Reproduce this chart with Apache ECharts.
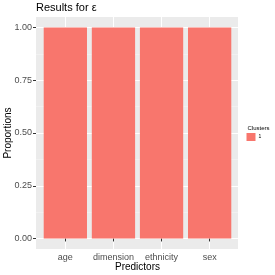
<!DOCTYPE html>
<html><head><meta charset="utf-8">
<script src="https://cdn.jsdelivr.net/npm/echarts@6/dist/echarts.min.js"></script>
<style>html,body{margin:0;padding:0;background:#fff}#c{width:275px;height:275px}</style>
</head><body><div id="c"></div>
<script>
var categories = ['age', 'dimension', 'ethnicity', 'sex'];
var values = [1, 1, 1, 1];
var clusterName = '1';
var yTicks = [0, 0.25, 0.5, 0.75, 1];

var FONT = '"Liberation Sans", Arial, sans-serif';
var chart = echarts.init(document.getElementById('c'), null, {renderer: 'canvas'});
chart.setOption({
  animation: false,
  backgroundColor: '#ffffff',
  textStyle: {fontFamily: FONT},
  title: [
    {text: 'Results for \u03b5', left: 36, top: 2, padding: 0, textStyle: {fontSize: 11, fontWeight: 'normal', color: '#000', fontFamily: FONT}},
    {text: 'Clusters', left: 247.5, top: 125, padding: 0, textStyle: {fontSize: 6, fontWeight: 'normal', color: '#000', fontFamily: FONT}}
  ],
  legend: {
    left: 246.5, top: 133, padding: 0, itemWidth: 9, itemHeight: 8, itemGap: 2,
    icon: 'rect', data: [clusterName],
    textStyle: {fontSize: 5, color: '#000', fontFamily: FONT, padding: [0, 0, 0, -2]}
  },
  grid: [
    {left: 36, top: 17, width: 202, height: 232, show: true, backgroundColor: '#EBEBEB', borderWidth: 0, containLabel: false, outerBoundsMode: 'none'},
    {left: 36, top: 27.5, width: 202, height: 211, show: false, containLabel: false, outerBoundsMode: 'none'},
    {left: 41.3, top: 17, width: 192.4, height: 232, show: false, containLabel: false, outerBoundsMode: 'none'}
  ],
  xAxis: [
    {type: 'value', gridIndex: 0, show: false},
    {type: 'value', gridIndex: 1, show: false},
    {type: 'category', gridIndex: 2, data: categories,
     axisLine: {show: false},
     axisTick: {show: true, alignWithLabel: true, length: 3, lineStyle: {color: '#333333', width: 1}},
     splitLine: {show: true, alignWithLabel: true, lineStyle: {color: '#ffffff', width: 1}},
     axisLabel: {margin: 4, fontSize: 9, color: '#4D4D4D', fontFamily: FONT, interval: 0},
     name: 'Predictors', nameLocation: 'middle', nameGap: 13.5, nameMoveOverlap: false,
     nameTextStyle: {fontSize: 10, color: '#000', fontFamily: FONT}}
  ],
  yAxis: [
    {type: 'value', gridIndex: 0, show: false},
    {type: 'value', gridIndex: 1, min: yTicks[0], max: yTicks[yTicks.length - 1], interval: 0.25,
     axisLine: {show: false},
     axisTick: {show: true, length: 3, lineStyle: {color: '#333333', width: 1}},
     minorTick: {show: false, splitNumber: 2},
     splitLine: {show: true, lineStyle: {color: '#ffffff', width: 1}},
     minorSplitLine: {show: true, lineStyle: {color: '#F5F5F5', width: 0.6}},
     axisLabel: {margin: 4, fontSize: 9, color: '#4D4D4D', fontFamily: FONT,
       formatter: function (v) { return v.toFixed(2); }},
     name: 'Proportions', nameLocation: 'middle', nameGap: 23, nameMoveOverlap: false,
     nameTextStyle: {fontSize: 10, color: '#000', fontFamily: FONT}},
    {type: 'value', gridIndex: 2, min: -0.05, max: 1.05, show: false}
  ],
  series: [
    {name: clusterName, type: 'bar', xAxisIndex: 2, yAxisIndex: 2, data: values,
     barWidth: '90%', itemStyle: {color: '#F8766D'}, emphasis: {disabled: true}, z: 3}
  ]
});
</script></body></html>
